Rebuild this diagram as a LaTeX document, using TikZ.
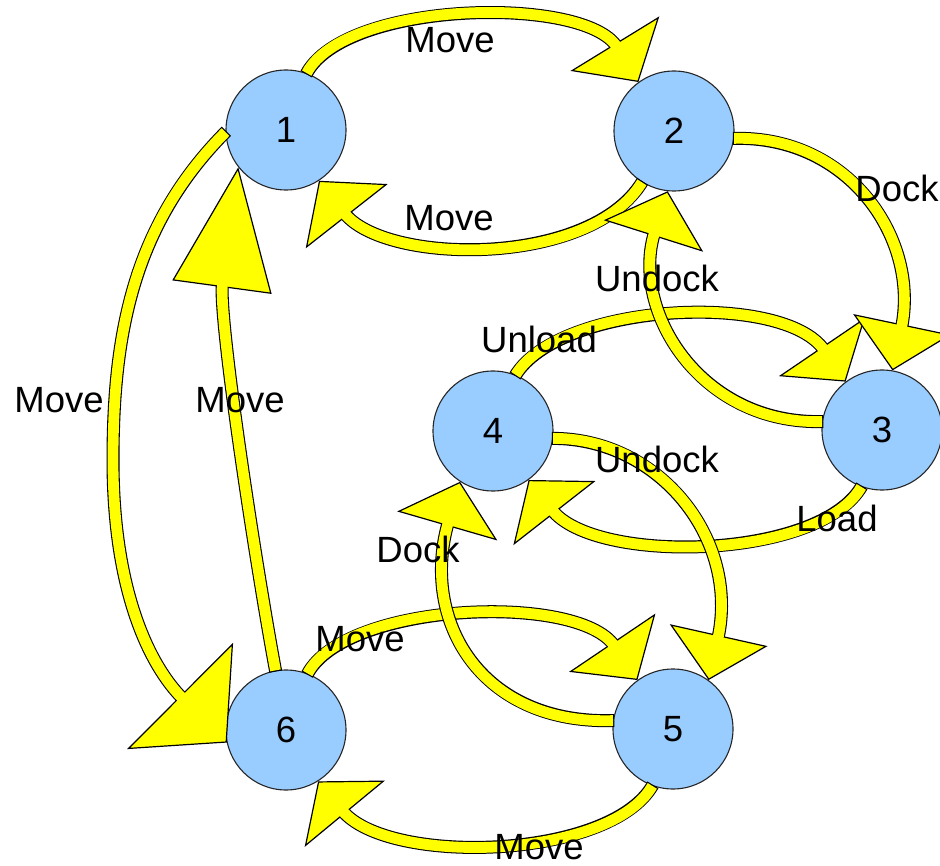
\documentclass[tikz,border=0pt]{standalone}
\usepackage{fontspec}
\setmainfont{Liberation Sans}
\usetikzlibrary{arrows.meta}
\definecolor{nodeblue}{RGB}{153,204,255}
\definecolor{arrowyellow}{RGB}{255,255,0}
\tikzset{
  state/.style={circle, draw=black!85, line width=1.1pt, fill=nodeblue,
    minimum size=120pt, inner sep=0pt, font=\fontsize{36.5pt}{40pt}\selectfont},
  lbl/.style={inner sep=0pt, font=\fontsize{36.5pt}{40pt}\selectfont},
  fat/.style 2 args={
    preaction={draw=black, line width=13pt, shorten <=-1.2pt, shorten >=#1-4pt},
    preaction={draw=black, line width=1pt,
      -{Triangle[length=#1, width=#2, fill=arrowyellow, color=black, line width=1.2pt]}},
    postaction={draw=arrowyellow, line width=10.8pt, shorten >=#1-4pt}
  }
}
\begin{document}
\begin{tikzpicture}[x=1pt,y=-1pt]
\useasboundingbox (0,0) rectangle (940,866);
% states
\node[state] (n1) at (286,130) {1};
\node[state] (n2) at (674,131) {2};
\node[state] (n3) at (882,430) {3};
\node[state] (n4) at (493,431) {4};
\node[state] (n5) at (673,729) {5};
\node[state] (n6) at (286,730) {6};
\coordinate (m16) at (113,460);
% connectors
\path[fat={45pt}{104pt}] (n1.70) .. controls (345,0) and (585,-5) .. (n2.126);
\path[fat={45pt}{104pt}] (n2.-122) .. controls (590,268) and (385,265) .. (n1.-57);
\path[fat={42pt}{104pt}] (n4.68) .. controls (560,302) and (784,291) .. (n3.127);
\path[fat={42pt}{104pt}] (n3.-110) .. controls (820,560) and (595,565) .. (n4.-54);
\path[fat={45pt}{104pt}] (n6.69) .. controls (345,602) and (578,592) .. (n5.126);
\path[fat={42pt}{104pt}] (n5.-110) .. controls (610,860) and (388,866) .. (n6.-58);
\path[fat={66pt}{150pt}] (n1.-178) .. controls (135,223) and (113,330) .. (m16)
   .. controls (113,590) and (149,665) .. (n6.-168);
\path[fat={121pt}{100pt}] (n6.100) .. controls (255,560) and (218,316) .. (n1.-142);
\path[fat={47pt}{100pt}] (n2.-7) .. controls (850,135) and (920,240) .. (n3.80);
\path[fat={47pt}{104pt}] (n3.172) .. controls (700,425) and (630,310) .. (n2.-96);
\path[fat={46pt}{100pt}] (n4.-7) .. controls (660,438) and (740,540) .. (n5.54);
\path[fat={46pt}{104pt}] (n5.172) .. controls (480,725) and (420,620) .. (n4.-123);
% labels
\node[lbl] (l1) at (450,40) {Move};
\node[lbl] (l2) at (449,218) {Move};
\node[lbl] (l3) at (897,188) {Dock};
\node[lbl] (l4) at (657,278) {Undock};
\node[lbl] (l5) at (539,339) {Unload};
\node[lbl] (l6) at (837,518) {Load};
\node[lbl] (l7) at (657,459) {Undock};
\node[lbl] (l8) at (418,549) {Dock};
\node[lbl] (l9) at (360,639) {Move};
\node[lbl] (l10) at (539,847) {Move};
\node[lbl] (l11) at (59,400) {Move};
\node[lbl] (l12) at (240,400) {Move};
\end{tikzpicture}
\end{document}
